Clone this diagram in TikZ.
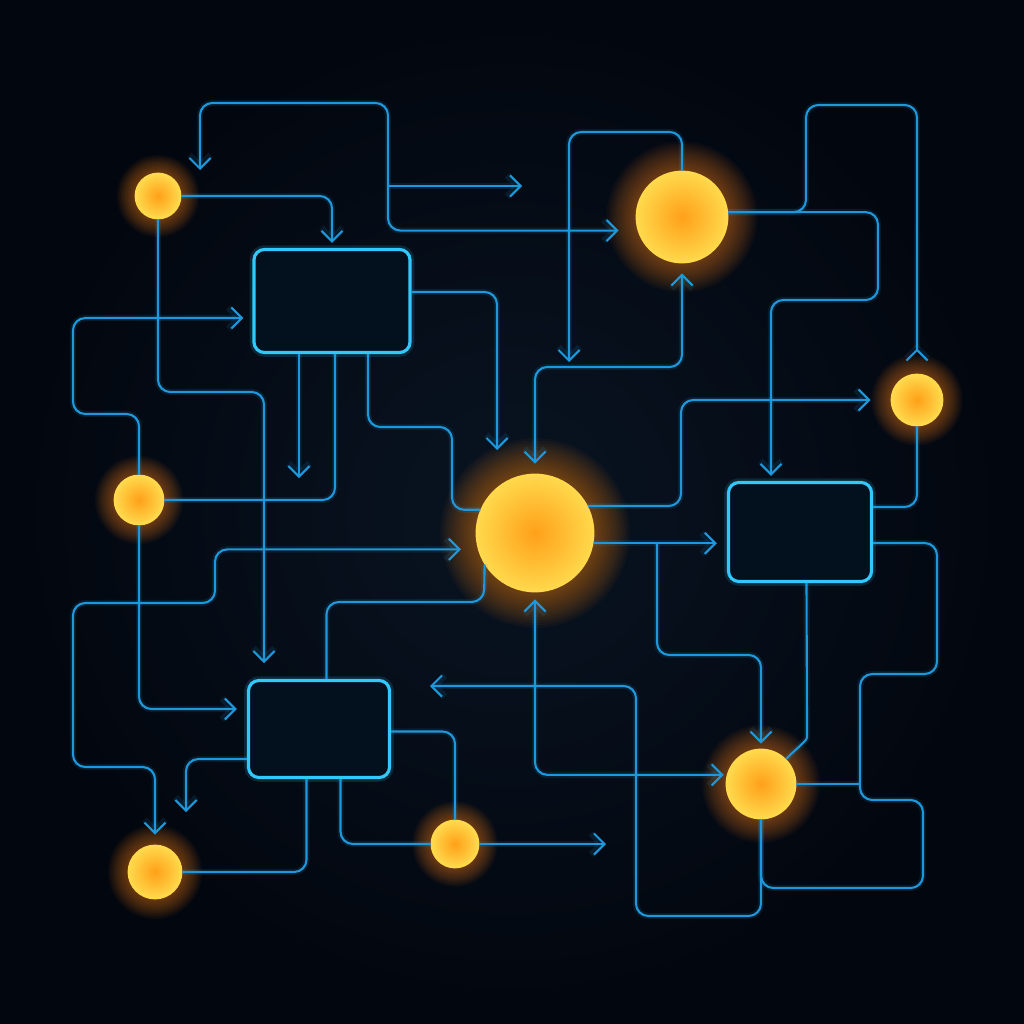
\documentclass[tikz,border=0pt]{standalone}
\usepackage{tikz}
\usetikzlibrary{arrows.meta,positioning,calc}

\definecolor{bgdark}{RGB}{2,6,14}
\definecolor{bgmid}{RGB}{9,20,34}
\definecolor{wire}{RGB}{30,152,218}
\definecolor{frame}{RGB}{50,200,252}
\definecolor{boxfill}{RGB}{3,16,30}
\definecolor{orbcore}{RGB}{255,160,25}
\definecolor{orbrim}{RGB}{255,216,75}
\definecolor{halo}{RGB}{255,135,20}

\begin{document}
\begin{tikzpicture}[x=0.01cm, y=-0.01cm]
    % Define styles
    \tikzstyle{orb} = [circle, inner sep=0pt, draw=orbrim, line width=0.8pt, inner color=orbcore, outer color=orbrim]
    \tikzstyle{box} = [rectangle, rounded corners=3pt, draw=frame, line width=0.9pt, fill=boxfill, inner sep=0pt, preaction={draw=frame, line width=2.4pt, opacity=0.15}]
    \tikzstyle{link} = [draw=wire, line width=0.6pt, rounded corners=3.5pt, >={Straight Barb[length=3pt,width=6pt]}, preaction={draw=wire, line width=1.8pt, opacity=0.12}]

    % Background
    \shade[inner color=bgmid, outer color=bgdark] (0,0) rectangle (1024,1024);

    % Orbs
    \foreach \nm/\px/\py/\r in {seed/158/196/22, hub/682/217/45, side/139/500/24, core/535/533/58, relay/917/400/25, merge/761/784/34, leaf/155/872/26, tail/455/844/23} {
        \foreach \k in {1,...,14}
            \fill[halo, opacity=0.04] (\px,\py) circle[radius={(\r+(0.035*\r+0.6)*\k)*0.01cm}];
        \node[orb, minimum size={2*\r*0.01cm}] (\nm) at (\px,\py) {};
    }

    % Boxes
    \node[box, minimum width=1.56cm, minimum height=1.03cm] (inbox) at (332,301) {};
    \node[box, minimum width=1.43cm, minimum height=0.99cm] (outbox) at (800,532) {};
    \node[box, minimum width=1.41cm, minimum height=0.97cm] (lowbox) at (319,729) {};

    % Free ends
    \coordinate (loopend) at (200,170);
    \coordinate (fork) at (388,186);
    \coordinate (stub) at (522,186);
    \coordinate (dropA) at (299,478);
    \coordinate (dropB) at (497,450);
    \coordinate (dropC) at (569,362);
    \coordinate (dropD) at (264,663);
    \coordinate (split) at (657,543);
    \coordinate (backend) at (430,686);
    \coordinate (hook) at (186,812);
    \coordinate (tailend) at (606,844);

    % Links
    \draw[link, <->, shorten >=0.19cm] (loopend) |- (388,103) |- (hub.197);
    \draw[link, ->] (fork) -- (stub);
    \draw[link, ->, shorten >=0.05cm] (seed.east) -| (inbox.north);
    \draw[link, ->] (seed.south) |- (264,392) -- (dropD);
    \draw[link, ->, shorten >=0.09cm] (side.north) |- (73,414) |- ([yshift=-0.17cm]inbox.west);
    \draw[link, ->] (dropA |- inbox.south) -- (dropA);
    \draw[link] (side.east) -| ([xshift=0.03cm]inbox.south);
    \draw[link] ([xshift=0.36cm]inbox.south) |- (452,427) |- (core.157);
    \draw[link, ->] ([yshift=0.09cm]inbox.east) -| (dropB);
    \draw[link, ->] (hub.north) |- (569,132) -- (dropC);
    \draw[link, <->, shorten <=0.1cm, shorten >=0.1cm] (core.north) |- (608,367) -| (hub.south);
    \draw[link, arrows={Straight Barb[length=3pt,width=6pt,reversed]-}, shorten <=0.12cm] (relay.north) |- (806,105) |- (hub.6);
    \draw[link, ->, shorten >=0.05cm] (hub.6) -| (878,300) -| ([xshift=-0.29cm]outbox.north);
    \draw[link, ->, shorten >=0.2cm] (core.27) -| (681,450) |- (relay.west);
    \draw[link] (relay.south) |- ([yshift=0.25cm]outbox.east);
    \draw[link, ->, shorten >=0.1cm] (core.-10) -- (outbox.west |- core.-10);
    \draw[link, ->, shorten >=0.05cm] (split) |- (700,655) -| (merge.north);
    \draw[link] ([xshift=0.065cm]outbox.south) -- (807,725) to[out=-90, in=45] (merge.45);
    \draw[link] ([yshift=-0.11cm]outbox.east) -| (937,674) -| (860,800) -| (923,888) -| (merge.south);
    \draw[link] (merge.east) -- (860,784);
    \draw[link, ->] (merge.south) |- (636,916) |- (backend);
    \draw[link, <->, shorten <=0.07cm, shorten >=0.03cm] (core.south) |- (merge.165);
    \draw[link, <->, shorten <=0.1cm, shorten >=0.17cm] (leaf.north) |- (73,767) |- (215,603) |- (core.196);
    \draw[link] ([xshift=0.075cm]lowbox.north) |- (484,602) -- (core.212);
    \draw[link, ->, shorten >=0.1cm] (side.south) |- ([yshift=0.2cm]lowbox.west);
    \draw[link, ->] ([yshift=-0.3cm]lowbox.west) -| (hook);
    \draw[link] ([xshift=-0.125cm]lowbox.south) |- (leaf.east);
    \draw[link] ([xshift=0.215cm]lowbox.south) |- (tail.west);
    \draw[link] ([yshift=-0.025cm]lowbox.east) -| (tail.north);
    \draw[link, ->] (tail.east) -- (tailend);
\end{tikzpicture}
\end{document}
